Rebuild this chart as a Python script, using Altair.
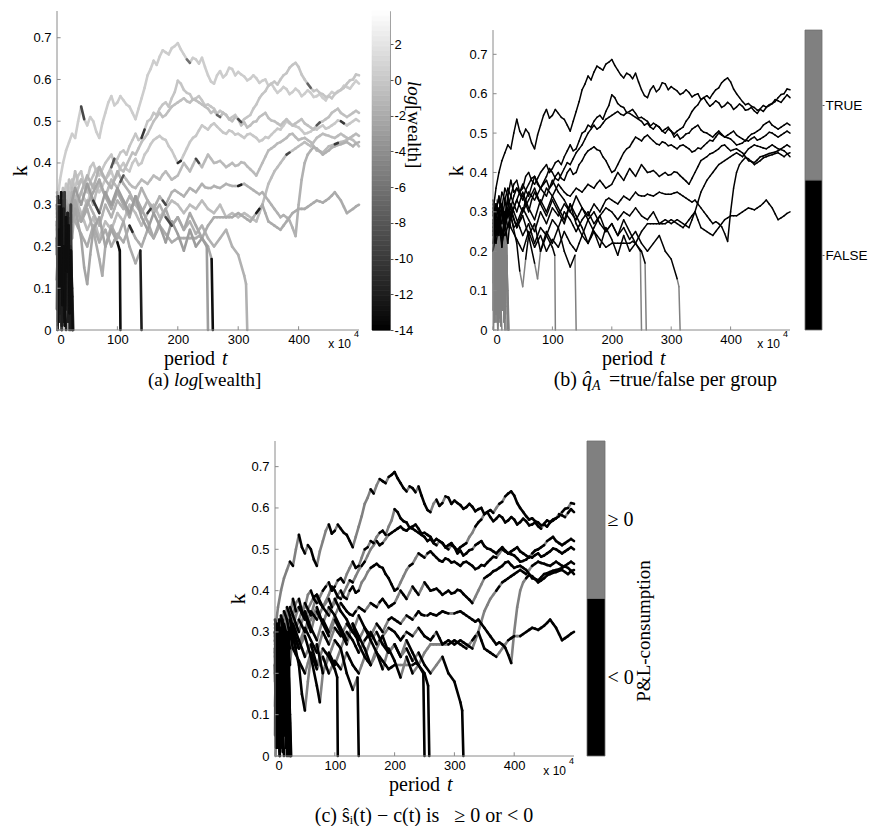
import altair as alt
import numpy as np
import pandas as pd

SANS = "Liberation Sans"
SERIF = "Liberation Serif"
NB = "\u00a0"

# ---------------- axis ticks / labels ----------------
X_TICKS = [0, 100, 200, 300, 400]
K_TICKS = [0, 0.1, 0.2, 0.3, 0.4, 0.5, 0.6, 0.7]
WEALTH_TICKS = [-14, -12, -10, -8, -6, -4, -2, 0, 2]
QA_LABELS = ["FALSE", "TRUE"]
PL_LABELS = ["< 0", "≥ 0"]

# ---------------- groups that survive (values read every 5e4 periods) ----------------
T5 = list(range(0, 505, 5))

A_k = [0.30, 0.36, 0.40, 0.43, 0.45, 0.47, 0.46, 0.50, 0.535, 0.505,
       0.49, 0.51, 0.50, 0.475, 0.46, 0.495, 0.52, 0.545, 0.56, 0.538,
       0.545, 0.56, 0.55, 0.54, 0.535, 0.52, 0.505, 0.53, 0.555, 0.58,
       0.61, 0.625, 0.645, 0.635, 0.655, 0.67, 0.665, 0.66, 0.675, 0.68,
       0.687, 0.672, 0.66, 0.648, 0.64, 0.652, 0.648, 0.638, 0.652, 0.63,
       0.61, 0.595, 0.59, 0.61, 0.62, 0.605, 0.612, 0.628, 0.625, 0.61,
       0.618, 0.612, 0.607, 0.598, 0.602, 0.61, 0.603, 0.592, 0.597, 0.60,
       0.585, 0.59, 0.578, 0.568, 0.574, 0.582, 0.577, 0.565, 0.57, 0.578,
       0.572, 0.56, 0.566, 0.574, 0.568, 0.558, 0.56, 0.565, 0.556, 0.55,
       0.562, 0.57, 0.566, 0.572, 0.575, 0.585, 0.582, 0.578, 0.588, 0.597,
       0.59]
B_k = [0.26, 0.32, 0.30, 0.35, 0.33, 0.36, 0.34, 0.37, 0.38, 0.35,
       0.36, 0.39, 0.40, 0.38, 0.37, 0.385, 0.40, 0.41, 0.42, 0.40,
       0.41, 0.425, 0.43, 0.42, 0.44, 0.455, 0.47, 0.455, 0.46, 0.48,
       0.50, 0.505, 0.52, 0.515, 0.53, 0.54, 0.545, 0.535, 0.555, 0.57,
       0.597, 0.59, 0.575, 0.568, 0.565, 0.552, 0.555, 0.56, 0.55, 0.538,
       0.54, 0.535, 0.53, 0.518, 0.525, 0.52, 0.515, 0.505, 0.51, 0.515,
       0.505, 0.498, 0.505, 0.51, 0.515, 0.53, 0.54, 0.555, 0.565, 0.572,
       0.585, 0.59, 0.595, 0.588, 0.60, 0.61, 0.615, 0.628, 0.635, 0.64,
       0.63, 0.612, 0.60, 0.59, 0.58, 0.572, 0.575, 0.568, 0.565, 0.558,
       0.56, 0.555, 0.565, 0.57, 0.575, 0.58, 0.59, 0.598, 0.60, 0.612,
       0.61]
C_k = [0.24, 0.30, 0.34, 0.31, 0.36, 0.34, 0.38, 0.35, 0.36, 0.345,
       0.33, 0.355, 0.37, 0.385, 0.39, 0.37, 0.36, 0.375, 0.39, 0.41,
       0.40, 0.385, 0.38, 0.395, 0.41, 0.425, 0.42, 0.435, 0.45, 0.46,
       0.47, 0.485, 0.50, 0.51, 0.52, 0.51, 0.515, 0.525, 0.535, 0.54,
       0.545, 0.55, 0.555, 0.548, 0.545, 0.552, 0.55, 0.545, 0.54, 0.535,
       0.53, 0.52, 0.525, 0.515, 0.51, 0.52, 0.515, 0.505, 0.50, 0.51,
       0.505, 0.49, 0.497, 0.485, 0.49, 0.498, 0.50, 0.51, 0.515, 0.52,
       0.508, 0.502, 0.50, 0.495, 0.49, 0.498, 0.505, 0.497, 0.49, 0.495,
       0.50, 0.505, 0.495, 0.49, 0.485, 0.48, 0.49, 0.497, 0.50, 0.505,
       0.51, 0.52, 0.525, 0.53, 0.52, 0.515, 0.51, 0.515, 0.52, 0.525,
       0.52]
D_k = [0.28, 0.22, 0.27, 0.30, 0.26, 0.31, 0.28, 0.31, 0.33, 0.315,
       0.30, 0.33, 0.35, 0.34, 0.33, 0.345, 0.36, 0.37, 0.38, 0.36,
       0.37, 0.39, 0.40, 0.385, 0.38, 0.40, 0.41, 0.395, 0.40, 0.42,
       0.43, 0.445, 0.455, 0.46, 0.465, 0.458, 0.455, 0.44, 0.43, 0.415,
       0.40, 0.405, 0.42, 0.435, 0.45, 0.46, 0.465, 0.478, 0.49, 0.485,
       0.48, 0.49, 0.495, 0.487, 0.48, 0.473, 0.47, 0.478, 0.475, 0.468,
       0.47, 0.465, 0.46, 0.468, 0.47, 0.465, 0.46, 0.452, 0.455, 0.462,
       0.46, 0.468, 0.475, 0.482, 0.48, 0.49, 0.50, 0.495, 0.49, 0.488,
       0.485, 0.478, 0.47, 0.472, 0.475, 0.482, 0.48, 0.486, 0.49, 0.482,
       0.485, 0.49, 0.495, 0.502, 0.50, 0.495, 0.49, 0.495, 0.50, 0.505,
       0.50]
E_k = [0.22, 0.28, 0.25, 0.32, 0.29, 0.34, 0.31, 0.34, 0.36, 0.35,
       0.34, 0.32, 0.30, 0.33, 0.35, 0.335, 0.32, 0.34, 0.36, 0.35,
       0.34, 0.355, 0.37, 0.36, 0.35, 0.343, 0.34, 0.35, 0.36, 0.355,
       0.35, 0.36, 0.37, 0.365, 0.36, 0.372, 0.38, 0.37, 0.36, 0.365,
       0.37, 0.385, 0.40, 0.39, 0.38, 0.395, 0.41, 0.40, 0.39, 0.405,
       0.42, 0.41, 0.40, 0.402, 0.405, 0.398, 0.39, 0.395, 0.40, 0.393,
       0.395, 0.402, 0.40, 0.392, 0.385, 0.378, 0.37, 0.385, 0.40, 0.415,
       0.43, 0.435, 0.44, 0.447, 0.45, 0.455, 0.46, 0.468, 0.47, 0.462,
       0.455, 0.458, 0.46, 0.455, 0.45, 0.44, 0.43, 0.428, 0.425, 0.432,
       0.44, 0.442, 0.445, 0.448, 0.45, 0.452, 0.455, 0.46, 0.465, 0.47,
       0.465]
F_k = [0.32, 0.26, 0.30, 0.24, 0.28, 0.33, 0.29, 0.26, 0.27, 0.29,
       0.31, 0.295, 0.28, 0.265, 0.25, 0.275, 0.30, 0.285, 0.27, 0.29,
       0.31, 0.30, 0.29, 0.305, 0.32, 0.31, 0.30, 0.29, 0.28, 0.295,
       0.31, 0.30, 0.29, 0.305, 0.32, 0.31, 0.30, 0.315, 0.33, 0.335,
       0.33, 0.325, 0.32, 0.33, 0.34, 0.335, 0.33, 0.34, 0.35, 0.342,
       0.34, 0.34, 0.345, 0.342, 0.34, 0.345, 0.35, 0.347, 0.345, 0.345,
       0.345, 0.348, 0.35, 0.345, 0.34, 0.335, 0.33, 0.325, 0.33, 0.32,
       0.31, 0.30, 0.29, 0.28, 0.27, 0.275, 0.27, 0.262, 0.245, 0.225,
       0.30, 0.36, 0.40, 0.42, 0.43, 0.438, 0.435, 0.428, 0.42, 0.425,
       0.43, 0.437, 0.44, 0.443, 0.445, 0.448, 0.45, 0.445, 0.44, 0.447,
       0.45]
G_k = [0.20, 0.25, 0.30, 0.27, 0.33, 0.29, 0.32, 0.30, 0.28, 0.26,
       0.24, 0.255, 0.27, 0.245, 0.22, 0.24, 0.26, 0.25, 0.24, 0.26,
       0.28, 0.27, 0.26, 0.28, 0.30, 0.29, 0.28, 0.265, 0.25, 0.265,
       0.28, 0.29, 0.30, 0.285, 0.27, 0.28, 0.29, 0.30, 0.31, 0.305,
       0.30, 0.29, 0.28, 0.29, 0.30, 0.295, 0.29, 0.30, 0.31, 0.30,
       0.29, 0.285, 0.28, 0.29, 0.30, 0.285, 0.27, 0.275, 0.28, 0.275,
       0.27, 0.275, 0.28, 0.275, 0.27, 0.265, 0.26, 0.28, 0.30, 0.325,
       0.35, 0.365, 0.38, 0.39, 0.40, 0.41, 0.42, 0.425, 0.43, 0.435,
       0.44, 0.445, 0.45, 0.445, 0.44, 0.45, 0.46, 0.465, 0.47, 0.467,
       0.465, 0.462, 0.46, 0.465, 0.47, 0.465, 0.46, 0.458, 0.455, 0.448,
       0.44]
H_k = [0.30, 0.24, 0.28, 0.22, 0.26, 0.30, 0.26, 0.245, 0.23, 0.215,
       0.20, 0.225, 0.25, 0.23, 0.21, 0.225, 0.24, 0.22, 0.20, 0.215,
       0.23, 0.22, 0.21, 0.23, 0.25, 0.235, 0.22, 0.21, 0.20, 0.22,
       0.24, 0.23, 0.22, 0.235, 0.25, 0.24, 0.23, 0.22, 0.21, 0.215,
       0.22, 0.22, 0.22, 0.22, 0.22, 0.22, 0.22, 0.225, 0.22, 0.235,
       0.25, 0.26, 0.27, 0.27, 0.27, 0.27, 0.27, 0.27, 0.27, 0.275,
       0.28, 0.275, 0.27, 0.265, 0.26, 0.27, 0.28, 0.29, 0.30, 0.28,
       0.26, 0.255, 0.25, 0.245, 0.24, 0.25, 0.26, 0.27, 0.28, 0.285,
       0.29, 0.29, 0.29, 0.295, 0.30, 0.305, 0.31, 0.308, 0.305, 0.31,
       0.315, 0.322, 0.33, 0.32, 0.31, 0.295, 0.28, 0.285, 0.29, 0.296,
       0.30]

# ---------------- groups that die during the run ----------------
D1_t = [0, 5, 10, 15, 20, 25, 30, 40, 45, 50, 55, 60, 70, 80, 90, 100, 104, 105]
D1_k = [0.25, 0.32, 0.28, 0.21, 0.30, 0.26, 0.29, 0.22, 0.15, 0.11, 0.18, 0.24, 0.27, 0.20, 0.24, 0.21, 0.19, 0.0]
D2_t = [0, 5, 10, 15, 20, 25, 30, 40, 50, 60, 70, 75, 80, 90, 100, 110, 120, 130, 138, 140]
D2_k = [0.33, 0.28, 0.24, 0.31, 0.27, 0.22, 0.30, 0.26, 0.29, 0.24, 0.17, 0.13, 0.20, 0.25, 0.22, 0.26, 0.20, 0.16, 0.19, 0.0]
D3_t = [0, 10, 20, 30, 40, 50, 60, 70, 80, 90, 100, 110, 120, 130, 140, 150, 160, 170, 180, 190,
        200, 210, 220, 230, 240, 248, 250]
D3_k = [0.27, 0.31, 0.28, 0.34, 0.30, 0.35, 0.31, 0.28, 0.33, 0.30, 0.34, 0.31, 0.28, 0.32, 0.27, 0.24, 0.28, 0.25, 0.21, 0.26,
        0.23, 0.19, 0.24, 0.20, 0.22, 0.20, 0.0]
D4_t = [0, 10, 20, 30, 40, 50, 60, 70, 80, 90, 100, 110, 120, 130, 140, 150, 160, 170, 180, 190,
        200, 210, 220, 230, 240, 250, 256, 258]
D4_k = [0.29, 0.33, 0.27, 0.31, 0.26, 0.30, 0.33, 0.36, 0.32, 0.29, 0.33, 0.30, 0.27, 0.32, 0.29, 0.26, 0.22, 0.26, 0.29, 0.25,
        0.27, 0.24, 0.28, 0.25, 0.22, 0.20, 0.17, 0.0]
D5_t = [0, 10, 20, 30, 40, 50, 60, 70, 80, 90, 100, 110, 120, 130, 140, 150, 160, 170, 180, 190,
        200, 210, 220, 230, 240, 250, 260, 270, 280, 290, 300, 310, 313, 315]
D5_k = [0.31, 0.27, 0.24, 0.29, 0.33, 0.37, 0.34, 0.39, 0.36, 0.34, 0.38, 0.35, 0.33, 0.30, 0.34, 0.31, 0.28, 0.30, 0.27, 0.25,
        0.27, 0.24, 0.26, 0.23, 0.25, 0.22, 0.20, 0.22, 0.24, 0.20, 0.18, 0.13, 0.11, 0.0]

# ---------------- groups that die at the very start ----------------
X1_t = [0, 1, 2, 3, 4, 5, 6, 7, 8]
X1_k = [0.26, 0.05, 0.30, 0.10, 0.24, 0.02, 0.20, 0.08, 0.0]
X2_t = [0, 1.5, 3, 4.5, 6, 7.5, 9, 10.5, 12, 13.5, 15]
X2_k = [0.18, 0.32, 0.06, 0.27, 0.12, 0.29, 0.03, 0.22, 0.15, 0.06, 0.0]
X3_t = [0, 2, 4, 6, 8, 10, 12, 14, 16, 18, 20]
X3_k = [0.30, 0.12, 0.25, 0.04, 0.28, 0.16, 0.26, 0.07, 0.22, 0.10, 0.0]
X4_t = [0, 2, 4, 6, 8, 10, 12, 14, 16, 18, 20, 22, 24, 25]
X4_k = [0.22, 0.08, 0.30, 0.14, 0.26, 0.02, 0.24, 0.18, 0.05, 0.27, 0.12, 0.20, 0.06, 0.0]
X5_t = [0, 2.5, 5, 7.5, 10, 12.5, 15, 17.5, 20, 22.5, 25, 27]
X5_k = [0.12, 0.28, 0.04, 0.25, 0.09, 0.31, 0.13, 0.23, 0.03, 0.21, 0.10, 0.0]
X6_t = [1, 3, 5, 7, 9, 11, 13, 15, 17, 19, 21, 23, 25, 26]
X6_k = [0.0, 0.24, 0.10, 0.33, 0.06, 0.20, 0.01, 0.27, 0.14, 0.25, 0.04, 0.19, 0.08, 0.0]
X7_t = [0, 1, 2, 3, 4, 5, 6, 7, 8, 9, 10, 11, 12, 13, 14, 15, 16, 17, 18, 19, 20, 21, 22]
X7_k = [0.05, 0.28, 0.02, 0.22, 0.30, 0.04, 0.18, 0.26, 0.01, 0.24, 0.12, 0.29, 0.03, 0.20, 0.27, 0.06, 0.23, 0.10, 0.28, 0.02,
        0.17, 0.09, 0.0]
X8_t = [0.5, 2, 3.5, 5, 6.5, 8, 9.5, 11, 12.5, 14, 15.5, 17, 18.5, 20, 21.5, 23, 24.5, 25.5]
X8_k = [0.15, 0.02, 0.31, 0.09, 0.21, 0.0, 0.27, 0.13, 0.33, 0.05, 0.19, 0.28, 0.02, 0.25, 0.11, 0.30, 0.07, 0.0]

LINES = {
    "A": (T5, A_k), "B": (T5, B_k), "C": (T5, C_k), "D": (T5, D_k),
    "E": (T5, E_k), "F": (T5, F_k), "G": (T5, G_k), "H": (T5, H_k),
    "D1": (D1_t, D1_k), "D2": (D2_t, D2_k), "D3": (D3_t, D3_k), "D4": (D4_t, D4_k), "D5": (D5_t, D5_k),
    "X1": (X1_t, X1_k), "X2": (X2_t, X2_k), "X3": (X3_t, X3_k), "X4": (X4_t, X4_k),
    "X5": (X5_t, X5_k), "X6": (X6_t, X6_k), "X7": (X7_t, X7_k), "X8": (X8_t, X8_k),
}

# log wealth level of each group, and darker spots (group, start t, value)
WEALTH = {"A": 0.4, "B": -0.2, "C": -0.6, "D": 0.0, "E": -1.0, "F": -1.6, "G": -0.8, "H": -2.0,
          "D1": -2.5, "D2": -2.0, "D3": -3.0, "D4": -2.2, "D5": -1.6,
          "X1": -10, "X2": -12, "X3": -8, "X4": -11, "X5": -9, "X6": -13, "X7": -12, "X8": -10}
DARK = [("A", 40, -9), ("B", 140, -10), ("C", 90, -8), ("D", 200, -11), ("E", 230, -9),
        ("F", 300, -12), ("G", 150, -10), ("H", 120, -11), ("D1", 100, -13), ("D1", 104, -13),
        ("D2", 138, -12), ("D4", 256, -13), ("D3", 60, -10), ("D5", 180, -9), ("C", 430, -8),
        ("E", 460, -10), ("B", 300, -9), ("D", 470, -10), ("H", 330, -12), ("G", 380, -9),
        ("A", 215, -6), ("C", 265, -7), ("E", 105, -8), ("F", 175, -9), ("B", 415, -7)]
# periods in which q_A is TRUE
QA_TRUE = {"X1": [(0, 30)], "X2": [(0, 30)], "X3": [(0, 30)], "X4": [(0, 30)], "X5": [(0, 30)],
           "X6": [(0, 30)], "X7": [(0, 30)], "X8": [(0, 30)],
           "D1": [(45, 55), (104, 106)], "D2": [(70, 80), (138, 141)], "D3": [(248, 251)],
           "D4": [(256, 259)], "D5": [(310, 316)]}
# a step counts as "P&L - consumption >= 0" when capital is flat or clearly grows
PL_GROWTH = 0.01

dark_map = {(n, t): v for n, t, v in DARK}
rows = []
for name, (ts, ks) in LINES.items():
    for i in range(min(len(ts), len(ks)) - 1):
        t0, t1, k0, k1 = ts[i], ts[i + 1], ks[i], ks[i + 1]
        w = dark_map.get((name, t0), WEALTH[name])
        qa = "TRUE" if any(lo <= t0 < hi for lo, hi in QA_TRUE.get(name, [])) else "FALSE"
        pl = "≥ 0" if (k1 == k0 or k1 - k0 > PL_GROWTH) else "< 0"
        rows.append(dict(line=name, t=t0, t2=t1, k=k0, k2=k1, wealth=w, qa=qa, pl=pl,
                         ord_w=-w, ord_qa=0 if qa == "TRUE" else 1, ord_pl=0 if pl == "≥ 0" else 1))
seg = pd.DataFrame(rows)

WEALTH_MIN, WEALTH_MAX = -14, 3.87
wealth_scale = alt.Scale(domain=[WEALTH_MIN, WEALTH_MAX], range=["#000000", "#ffffff"], interpolate="rgb")
qa_scale = alt.Scale(domain=["TRUE", "FALSE"], range=["#808080", "#000000"])
pl_scale = alt.Scale(domain=["≥ 0", "< 0"], range=["#808080", "#000000"])

ONE = pd.DataFrame({"v": [0]})


def label(text, x, y, size, font=SERIF, style="normal", align="left", baseline="alphabetic", angle=None):
    kw = dict(text=text, font=font, fontSize=size, fontStyle=style, align=align, baseline=baseline, color="black")
    if angle is not None:
        kw["angle"] = angle
    return alt.Chart(ONE).mark_text(**kw).encode(x=alt.value(x), y=alt.value(y))


def panel(w, h, ytop_dom, ytop_axis, field, ftype, cscale, order_field, sw, texts):
    xs = alt.Scale(domain=[0, 500], nice=False, zero=False)
    ys = alt.Scale(domain=[0, ytop_dom], nice=False, zero=False)
    xax = alt.Axis(values=X_TICKS, title=None, labelPadding=3)
    yax = alt.Axis(values=K_TICKS, title="k", labelPadding=6, titlePadding=1,
                   labelExpr="datum.value == 0 ? '0' : format(datum.value, '.1f')")
    segs = alt.Chart(seg).mark_rule(strokeWidth=sw, strokeCap="round").encode(
        x=alt.X("t:Q", scale=xs, axis=xax), x2="t2:Q",
        y=alt.Y("k:Q", scale=ys, axis=yax), y2="k2:Q",
        color=alt.Color(f"{field}:{ftype}", scale=cscale, legend=None),
        order=alt.Order(f"{order_field}:Q"))
    # axis lines and small inward ticks
    n_x, n_k = len(X_TICKS), len(K_TICKS)
    frame_df = pd.DataFrame({
        "t": [0, 0] + X_TICKS + [0] * n_k,
        "t2": [0, 500] + X_TICKS + [6] * n_k,
        "k": [0, 0] + [0] * n_x + K_TICKS,
        "k2": [ytop_axis, 0] + [0.009] * n_x + K_TICKS,
    })
    frame = alt.Chart(frame_df).mark_rule(color="#8a8a8a", strokeWidth=1).encode(
        x=alt.X("t:Q", scale=xs, axis=xax), x2="t2:Q",
        y=alt.Y("k:Q", scale=ys, axis=yax), y2="k2:Q")
    return alt.layer(segs, frame, *texts).properties(width=w, height=h)


def spacer(w):
    return alt.Chart(ONE).mark_point(opacity=0, size=0).encode(
        x=alt.value(0), y=alt.value(0)).properties(width=w, height=1)


# ---------------- panel (a) ----------------
PA_W, PA_H = 302, 319
pa_texts = [
    label("period", 107, PA_H + 35, 20),
    label("t", 165, PA_H + 35, 20, style="italic"),
    label("x 10", PA_W - 8, PA_H + 18, 12, font=SANS, align="right"),
    label("4", PA_W - 5, PA_H + 7, 9, font=SANS),
    label("(a)", 112, PA_H + 56, 19, align="right"),
    label("log", 117, PA_H + 56, 19, style="italic"),
    label("[wealth]", 141, PA_H + 56, 19),
]
pa = panel(PA_W, PA_H, 0.764, 0.764, "wealth", "Q", wealth_scale, "ord_w", 2.6, pa_texts)

# colorbar (a)
lev = np.linspace(WEALTH_MIN, WEALTH_MAX, 65)
cbA_df = pd.DataFrame({"lo": lev[:-1], "hi": lev[1:], "mid": (lev[:-1] + lev[1:]) / 2})
cbA_bar = alt.Chart(cbA_df).mark_rect(strokeWidth=0.6).encode(
    x=alt.value(0), x2=alt.value(18),
    y=alt.Y("lo:Q", scale=alt.Scale(domain=[WEALTH_MIN, WEALTH_MAX], nice=False, zero=False),
            axis=alt.Axis(orient="right", values=WEALTH_TICKS, labelExpr="'' + datum.value", title=None,
                          ticks=True, tickSize=3, tickColor="#555555", labelPadding=1)),
    y2="hi:Q",
    color=alt.Color("mid:Q", scale=wealth_scale, legend=None),
    stroke=alt.Stroke("mid:Q", scale=wealth_scale, legend=None))
cbA = alt.layer(
    cbA_bar,
    label("log", 42, 70, 19, style="italic", baseline="middle", angle=90),
    label("[wealth]", 42, 94, 19, baseline="middle", angle=90),
).properties(width=18, height=PA_H, view=alt.ViewBackground(stroke="#808080", strokeWidth=1))

# ---------------- panel (b) ----------------
PB_W, PB_H = 297, 319
pb_texts = [
    label("period", 109, PB_H + 35, 20),
    label("t", 167, PB_H + 35, 20, style="italic"),
    label("x 10", PB_W - 10, PB_H + 18, 12, font=SANS, align="right"),
    label("4", PB_W - 7, PB_H + 7, 9, font=SANS),
    label("(b)", 84, PB_H + 56, 20, align="right"),
    label("q\u0302", 89, PB_H + 56, 20, style="italic"),
    label("A", 99, PB_H + 60, 14, style="italic"),
    label("=true/false per group", 116, PB_H + 56, 20),
]
pb = panel(PB_W, PB_H, 0.81, 0.7616, "qa", "N", qa_scale, "ord_qa", 1.5, pb_texts)

cbB_df = pd.DataFrame({"lo": [0, 1], "hi": [1, 2], "cat": ["FALSE", "TRUE"]})
cbB = alt.Chart(cbB_df).mark_rect(stroke="#6e6e6e", strokeWidth=0.8).encode(
    x=alt.value(0), x2=alt.value(17),
    y=alt.Y("lo:Q", scale=alt.Scale(domain=[0, 2.127], nice=False, zero=False),
            axis=alt.Axis(orient="right", values=[0.5, 1.5], title=None, ticks=True, tickSize=2,
                          tickColor="#555555", labelFontSize=13.5, labelPadding=1,
                          labelExpr=f"datum.value < 1 ? '{QA_LABELS[0]}' : '{QA_LABELS[1]}'")),
    y2="hi:Q",
    color=alt.Color("cat:N", scale=qa_scale, legend=None)).properties(width=17, height=PB_H)

# ---------------- panel (c) ----------------
PC_W, PC_H = 299, 315
caption_c = f"(c) ŝᵢ(t){NB}−{NB}c(t) is {NB}{NB}≥{NB}0 or{NB}<{NB}0"
pc_texts = [
    label("period", 114, PC_H + 35, 20),
    label("t", 172, PC_H + 35, 20, style="italic"),
    label("x 10", PC_W - 8, PC_H + 19, 12, font=SANS, align="right"),
    label("4", PC_W - 5, PC_H + 8, 9, font=SANS),
    label(caption_c, 149, PC_H + 66, 20, align="center"),
]
pc = panel(PC_W, PC_H, 0.762, 0.762, "pl", "N", pl_scale, "ord_pl", 2.6, pc_texts)

cbC_df = pd.DataFrame({"lo": [0, 1], "hi": [1, 2], "cat": ["< 0", "≥ 0"]})
cbC_bar = alt.Chart(cbC_df).mark_rect(stroke="#6e6e6e", strokeWidth=0.8).encode(
    x=alt.value(0), x2=alt.value(18),
    y=alt.Y("lo:Q", scale=alt.Scale(domain=[0, 2], nice=False, zero=False),
            axis=alt.Axis(orient="right", values=[0.5, 1.5], title=None, ticks=False,
                          labelFont=SERIF, labelFontSize=20, labelPadding=2,
                          labelExpr=f"datum.value < 1 ? '{PL_LABELS[0]}' : '{PL_LABELS[1]}'")),
    y2="hi:Q",
    color=alt.Color("cat:N", scale=pl_scale, legend=None))
cbC = alt.layer(
    cbC_bar,
    label("P&L-consumption", 57, 190, 19, align="center", baseline="middle", angle=270),
).properties(width=18, height=PC_H)

top = alt.hconcat(pa, spacer(13), cbA, spacer(103), pb, spacer(15), cbB, bounds="flush", spacing=0)
bottom = alt.hconcat(spacer(218), pc, spacer(13), cbC, bounds="flush", spacing=0)

chart = alt.vconcat(top, bottom, spacing=47).properties(
    padding={"left": 0, "top": 2, "right": 0, "bottom": 0}
).configure_view(stroke=None).configure_axis(
    labelFont=SANS, labelFontSize=13, labelColor="black",
    titleFont=SERIF, titleFontSize=22, titleFontWeight="normal", titleColor="black",
    grid=False, domain=False, ticks=False,
)

chart.save("out.html", embed_options={"renderer": "svg", "actions": False})
